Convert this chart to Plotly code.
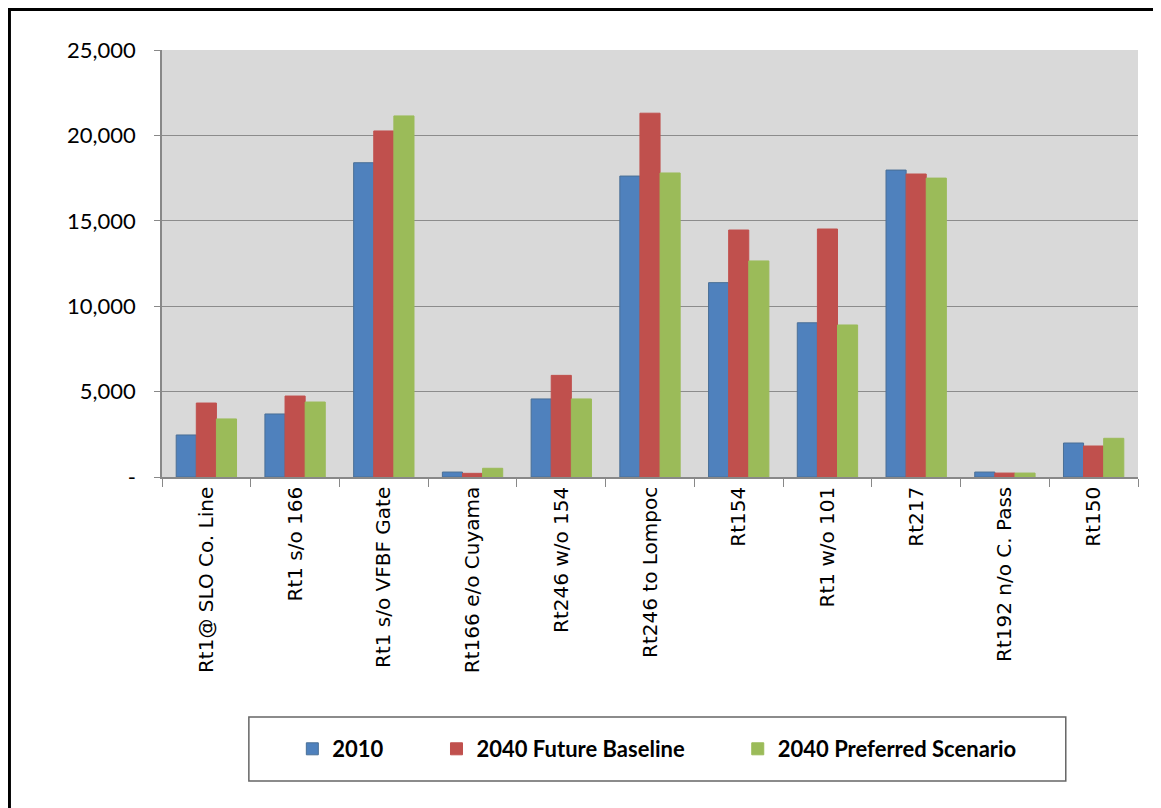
import plotly.graph_objects as go

locations = ["Rt1@ SLO Co. Line", "Rt1 s/o 166", "Rt1 s/o VFBF Gate", "Rt166 e/o Cuyama",
             "Rt246 w/o 154", "Rt246 to Lompoc", "Rt154", "Rt1 w/o 101", "Rt217",
             "Rt192 n/o C. Pass", "Rt150"]
vol_2010 = [2460, 3690, 18400, 290, 4570, 17620, 11380, 9030, 17970, 290, 1990]
vol_2040_base = [4330, 4740, 20260, 215, 5950, 21300, 14460, 14520, 17740, 230, 1815]
vol_2040_pref = [3400, 4390, 21140, 510, 4570, 17800, 12650, 8900, 17500, 230, 2265]

y_ticks = [0, 5000, 10000, 15000, 20000, 25000]
y_labels = ["-", "5,000", "10,000", "15,000", "20,000", "25,000"]

# trailing non-breaking spaces only widen the gap between legend entries
pad = "\u00a0" * 9
series = [
    ("2010" + pad, vol_2010, "#4F81BD", "#4A6F96"),
    ("2040 Future Baseline" + pad, vol_2040_base, "#C0504D", "#C0504D"),
    ("2040 Preferred Scenario", vol_2040_pref, "#9BBB59", "#9BBB59"),
]

fig = go.Figure()
for name, vals, col, edge in series:
    fig.add_trace(go.Bar(x=locations, y=vals, name=name, marker_color=col,
                         marker_line_color=edge, marker_line_width=1))

# the page adds an 8px body margin, so the figure is drawn 8px smaller
fig.update_layout(
    width=1153, height=800,
    margin=dict(l=154, r=23, t=42, b=331),
    paper_bgcolor="white",
    plot_bgcolor="#D9D9D9",
    barmode="group",
    bargap=0.32,
    bargroupgap=0,
    font=dict(family="Lato, Calibri, sans-serif", color="black"),
    showlegend=True,
    legend=dict(orientation="h", x=0.507, xanchor="center", y=-0.637, yanchor="middle",
                font=dict(size=22, family="Lato", weight="bold"),
                bgcolor="rgba(0,0,0,0)", itemwidth=30),
    shapes=[
        # frame round the picture (left and top edges show)
        dict(type="rect", xref="paper", yref="paper", x0=-0.1563, x1=1.1, y0=-0.9, y1=1.0949,
             line=dict(color="black", width=3), layer="below"),
        # legend box
        dict(type="rect", xref="paper", yref="paper", x0=0.089, x1=0.926, y0=-0.712, y1=-0.562,
             line=dict(color="#666666", width=1.5)),
    ],
)

fig.update_xaxes(
    type="category",
    tickangle=-90,
    tickfont=dict(family="DejaVu Sans", size=20),
    ticks="outside", tickson="boundaries", ticklen=8, tickcolor="#888888",
    showline=True, linecolor="#888888", linewidth=1.5,
    showgrid=False,
)
fig.update_yaxes(
    range=[0, 25000],
    tickvals=y_ticks, ticktext=y_labels,
    tickfont=dict(size=22, family="Lato"),
    ticks="outside", ticklen=6, tickcolor="#888888", ticklabelstandoff=14,
    showline=True, linecolor="#888888", linewidth=1.5,
    gridcolor="#8C8C8C", gridwidth=1.3,
    zeroline=False,
)

fig.write_html("out.html")
